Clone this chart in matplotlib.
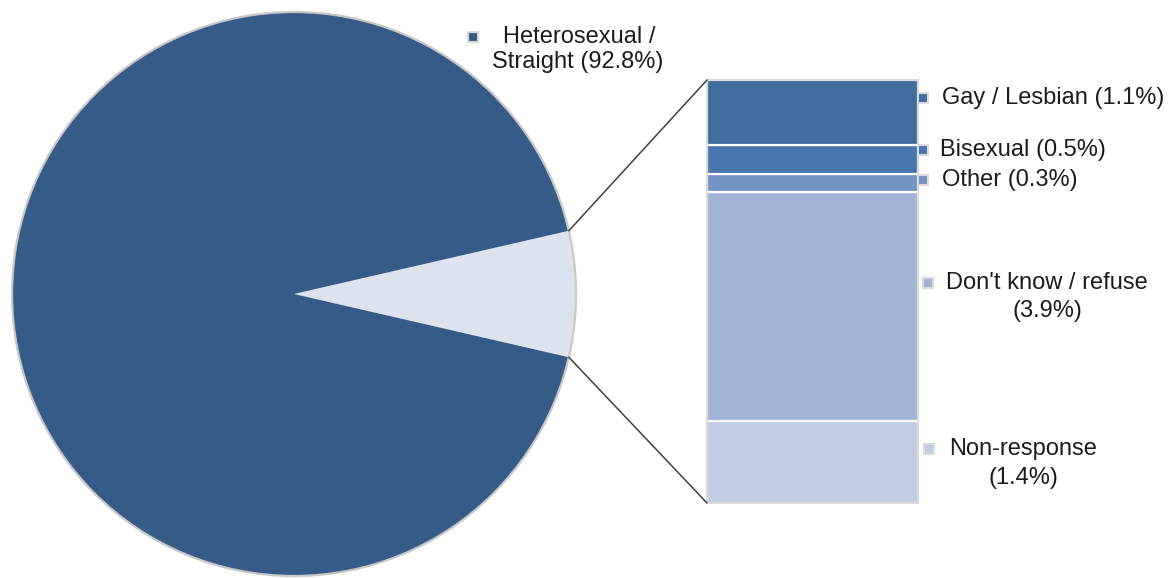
import numpy as np
import matplotlib
matplotlib.use("Agg")
import matplotlib.pyplot as plt
from matplotlib.patches import ConnectionPatch, Circle

plt.rcParams['font.family'] = ['Liberation Sans', 'DejaVu Sans']

# ---- data ----
pie_labels = ["Other groups", "Heterosexual / Straight"]
pie_values = [7.2, 92.8]
pie_colors = ["#DCE2EE", "#375B88"]

bar_labels = ["Gay / Lesbian", "Bisexual", "Other", "Don't know / refuse", "Non-response"]
bar_values = [1.1, 0.5, 0.3, 3.9, 1.4]
bar_colors = ["#416C9E", "#4877B0", "#7293C3", "#A1B4D4", "#C1CCE2"]

W, H = 1170, 578
fig = plt.figure(figsize=(W / 100, H / 100), dpi=100)
ax = fig.add_axes([0, 0, 1, 1])

def py(y):
    return H - y

# ---- pie ----
half = pie_values[0] / sum(pie_values) * 360 / 2
wedges, _ = ax.pie(pie_values, colors=pie_colors, startangle=-half,
                   center=(294, py(294)), radius=282, counterclock=True,
                   wedgeprops=dict(linewidth=0))
ax.add_patch(Circle((294, py(294)), 282, fill=False, edgecolor="#c8c8c8", lw=1.6, zorder=3))
ax.set_xlim(0, W)
ax.set_ylim(0, H)
ax.set_aspect('equal')
ax.axis('off')

# ---- bar of pie ----
bx0, by0, bx1, by1 = 707, 80, 918, 503
ax2 = fig.add_axes([bx0 / W, (H - by1) / H, (bx1 - bx0) / W, (by1 - by0) / H])
bottom = 0.0
for v, c in zip(bar_values[::-1], bar_colors[::-1]):
    ax2.bar(0, v, width=1.0, bottom=bottom, color=c, edgecolor="white", linewidth=1.6)
    bottom += v
ax2.set_xlim(-0.5, 0.5)
ax2.set_ylim(0, sum(bar_values))
ax2.set_xticks([])
ax2.set_yticks([])
for s in ax2.spines.values():
    s.set_color("#d4d4d4")
    s.set_linewidth(1.2)

# ---- connector lines ----
w = wedges[0]
cx, cy = w.center
for theta, yfrac in [(w.theta2, 1.0), (w.theta1, 0.0)]:
    tip = (cx + w.r * np.cos(np.radians(theta)), cy + w.r * np.sin(np.radians(theta)))
    con = ConnectionPatch(xyA=tip, coordsA=ax.transData, xyB=(0, yfrac),
                          coordsB=ax2.transAxes, color="#404040", lw=1.1)
    fig.add_artist(con)

# ---- labels ----
tc = "#1c1c1c"
fs = 17

def marker(x, y, color):
    ax.plot([x], [py(y)], marker='s', markersize=7, markerfacecolor=color,
            markeredgecolor="#dadada", markeredgewidth=1.5, zorder=5, clip_on=False)

# Heterosexual
marker(473, 37, pie_colors[1])
ax.text(579, py(37), "Heterosexual /", fontsize=fs, color=tc, ha='center', va='center')
ax.text(578, py(62), "Straight (92.8%)", fontsize=fs, color=tc, ha='center', va='center')

# Small labels
single = [(0, 923, 942, 98), (1, 923, 940, 150), (2, 923, 942, 180)]
for i, mx, tx, y in single:
    marker(mx, y, bar_colors[i])
    ax.text(tx, py(y), f"{bar_labels[i]} ({bar_values[i]}%)", fontsize=fs,
            color=tc, ha='left', va='center')

double = [(3, 928, 283, 1047, 311), (4, 929, 449, 1023, 478)]
for i, mx, y1, xc, y2 in double:
    marker(mx, y1, bar_colors[i])
    ax.text(xc, py(y1), bar_labels[i], fontsize=fs, color=tc, ha='center', va='center')
    ax.text(xc, py(y2), f"({bar_values[i]}%)", fontsize=fs, color=tc, ha='center', va='center')

fig.savefig("out.png", dpi=100)
